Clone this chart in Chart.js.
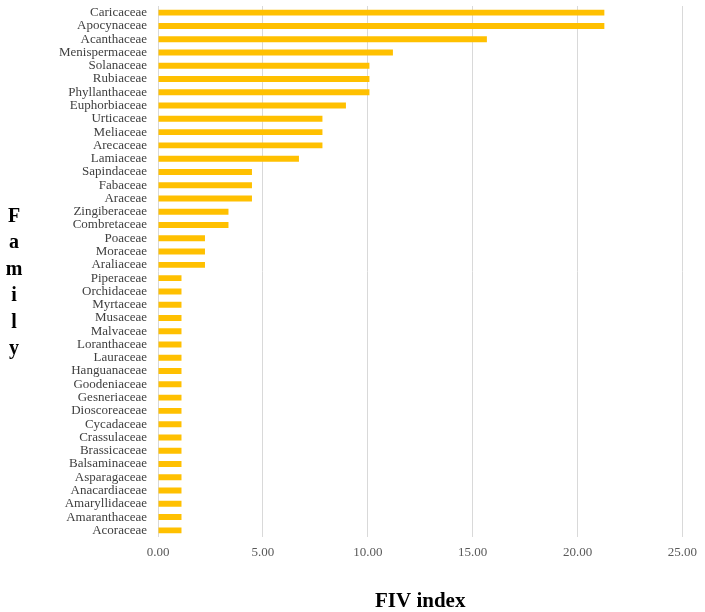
<!DOCTYPE html>
<html>
<head>
<meta charset="utf-8">
<title>FIV index by family</title>
<script src="https://cdn.jsdelivr.net/npm/chart.js@4/dist/chart.umd.min.js"></script>
<style>
  html, body { margin: 0; padding: 0; background: #fff; }
  #wrap { position: relative; width: 705px; height: 612px; }
  #family {
    position: absolute; left: 2px; top: 204px;
    font: bold 20px "Liberation Serif", "DejaVu Serif", serif;
    color: #000;
    writing-mode: vertical-rl; text-orientation: upright;
    letter-spacing: 4.4px;
  }
</style>
</head>
<body>
<div id="wrap">
  <canvas id="chart"></canvas>
  <div id="family">Family</div>
</div>
<script>
// families, top to bottom
const families = [
  'Caricaceae', 'Apocynaceae', 'Acanthaceae', 'Menispermaceae', 'Solanaceae',
  'Rubiaceae', 'Phyllanthaceae', 'Euphorbiaceae', 'Urticaceae', 'Meliaceae',
  'Arecaceae', 'Lamiaceae', 'Sapindaceae', 'Fabaceae', 'Araceae',
  'Zingiberaceae', 'Combretaceae', 'Poaceae', 'Moraceae', 'Araliaceae',
  'Piperaceae', 'Orchidaceae', 'Myrtaceae', 'Musaceae', 'Malvaceae',
  'Loranthaceae', 'Lauraceae', 'Hanguanaceae', 'Goodeniaceae', 'Gesneriaceae',
  'Dioscoreaceae', 'Cycadaceae', 'Crassulaceae', 'Brassicaceae', 'Balsaminaceae',
  'Asparagaceae', 'Anacardiaceae', 'Amaryllidaceae', 'Amaranthaceae', 'Acoraceae',
];

// FIV index
const fivValues = [
  21.28, 21.28, 15.68, 11.20, 10.08,
  10.08, 10.08, 8.96, 7.84, 7.84,
  7.84, 6.72, 4.48, 4.48, 4.48,
  3.36, 3.36, 2.24, 2.24, 2.24,
  1.12, 1.12, 1.12, 1.12, 1.12,
  1.12, 1.12, 1.12, 1.12, 1.12,
  1.12, 1.12, 1.12, 1.12, 1.12,
  1.12, 1.12, 1.12, 1.12, 1.12,
];

const xTicks = [0, 5, 10, 15, 20, 25];
const xTickLabels = ['0.00', '5.00', '10.00', '15.00', '20.00', '25.00'];

const SERIF = '"Liberation Serif", "DejaVu Serif", serif';

new Chart(document.getElementById('chart'), {
  type: 'bar',
  data: {
    labels: families,
    datasets: [{
      label: 'FIV index',
      data: fivValues,
      backgroundColor: '#ffc000',
      borderWidth: 0,
      categoryPercentage: 1.0,
      barPercentage: 0.45,
    }],
  },
  options: {
    indexAxis: 'y',
    responsive: true,
    maintainAspectRatio: false,
    animation: false,
    layout: { padding: { top: 6, right: 20, bottom: 0, left: 0 } },
    plugins: {
      legend: { display: false },
      tooltip: { enabled: false },
    },
    scales: {
      x: {
        min: 0,
        max: 25,
        afterBuildTicks: axis => { axis.ticks = xTicks.map(v => ({ value: v })); },
        afterFit: axis => { axis.height = 75; },
        grid: { color: '#d9d9d9', lineWidth: 1, drawTicks: false },
        border: { display: false },
        ticks: {
          padding: 8,
          color: '#595959',
          font: { family: SERIF, size: 13 },
          callback: v => xTickLabels[xTicks.indexOf(v)],
        },
        title: {
          display: true,
          text: 'FIV index',
          color: '#000',
          font: { family: SERIF, size: 21, weight: 'bold' },
          padding: { top: 0, bottom: -2 },
        },
      },
      y: {
        afterFit: axis => {
          axis.width = 158;
          axis.paddingTop = 0;
          axis.paddingBottom = 0;
        },
        grid: { display: false, drawTicks: false },
        border: { display: false },
        ticks: {
          autoSkip: false,
          padding: 11,
          color: '#404040',
          font: { family: SERIF, size: 13 },
        },
      },
    },
  },
});
</script>
</body>
</html>
